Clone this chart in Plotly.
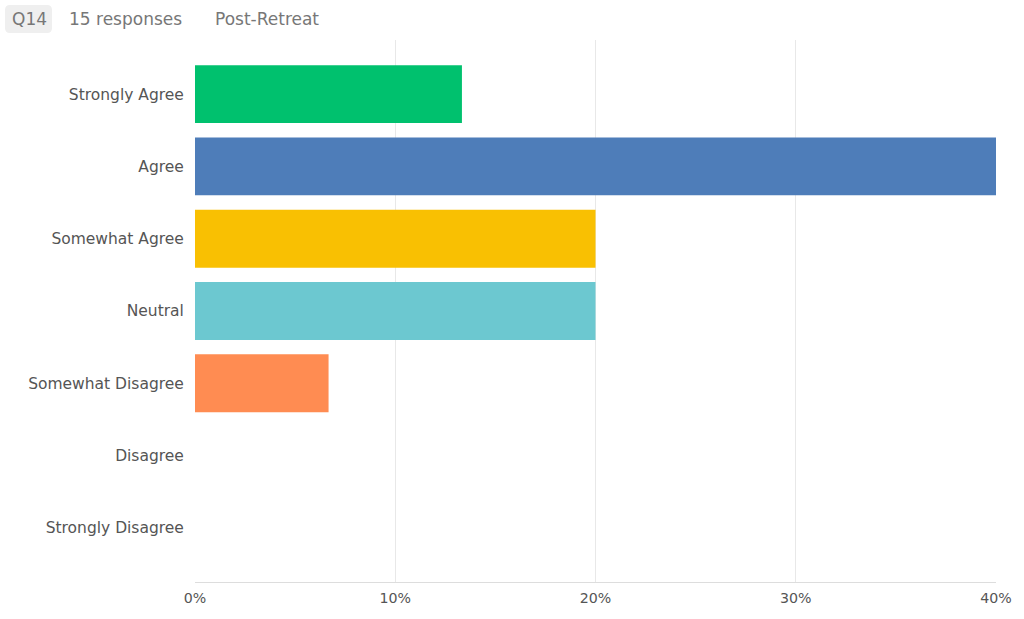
import plotly.graph_objects as go

categories = ["Strongly Agree", "Agree", "Somewhat Agree", "Neutral",
              "Somewhat Disagree", "Disagree", "Strongly Disagree"]
percent = [13.33, 40.0, 20.0, 20.0, 6.67, 0.0, 0.0]
colors = ["#00C16E", "#4E7DB9", "#F9C002", "#6CC8D0", "#FF8C52", "#8E6BB8", "#E55D5D"]
tick_vals = [0, 10, 20, 30, 40]
tick_text = ["0%", "10%", "20%", "30%", "40%"]

W, H = 1024, 619
ML, MR, MT, MB = 195, 28, 40, 37
PW, PH = W - ML - MR, H - MT - MB

def px(x):
    return (x - ML) / PW

def py(y):
    return (H - MB - y) / PH

fig = go.Figure(go.Bar(
    y=categories, x=percent, orientation="h",
    marker=dict(color=colors, line=dict(width=0)),
    width=0.8, hoverinfo="skip",
))

font = "DejaVu Sans, sans-serif"
fig.update_layout(
    width=W, height=H,
    margin=dict(l=ML, r=MR, t=MT, b=MB),
    paper_bgcolor="white", plot_bgcolor="white",
    showlegend=False,
    font=dict(family=font, size=14, color="#555555"),
    xaxis=dict(range=[0, 40], tickvals=tick_vals, ticktext=tick_text,
               showgrid=True, gridcolor="#E8E8E8", gridwidth=1,
               zeroline=False, showline=True, linecolor="#DDDDDD", linewidth=1,
               ticks="outside", ticklen=3, tickcolor="rgba(0,0,0,0)",
               fixedrange=True,
               tickfont=dict(size=14.2, color="#555555")),
    yaxis=dict(categoryorder="array", categoryarray=categories,
               autorange=False, range=[6.75, -0.75],
               showgrid=False, zeroline=False, showline=False,
               ticks="outside", ticklen=7, tickcolor="rgba(0,0,0,0)",
               tickfont=dict(size=15.5, color="#555555")),
)

# rounded grey box behind "Q14"
x0, x1, y0, y1, r = 5, 52, 5, 33, 5
path = (f"M {px(x0 + r)},{py(y0)} L {px(x1 - r)},{py(y0)} "
        f"Q {px(x1)},{py(y0)} {px(x1)},{py(y0 + r)} "
        f"L {px(x1)},{py(y1 - r)} Q {px(x1)},{py(y1)} {px(x1 - r)},{py(y1)} "
        f"L {px(x0 + r)},{py(y1)} Q {px(x0)},{py(y1)} {px(x0)},{py(y1 - r)} "
        f"L {px(x0)},{py(y0 + r)} Q {px(x0)},{py(y0)} {px(x0 + r)},{py(y0)} Z")
fig.add_shape(type="path", xref="paper", yref="paper", path=path,
              fillcolor="#EFEFEF", line=dict(width=0), layer="below")

hy = py(18.5)
fig.add_annotation(text="Q14", xref="paper", yref="paper", x=px(29), y=hy,
                   xanchor="center", yanchor="middle", showarrow=False,
                   font=dict(family=font, size=17, color="#777777"))
fig.add_annotation(text="15 responses", xref="paper", yref="paper", x=px(67), y=hy,
                   xanchor="left", yanchor="middle", showarrow=False,
                   font=dict(family=font, size=17, color="#777777"))
fig.add_annotation(text="Post-Retreat", xref="paper", yref="paper", x=px(213), y=hy,
                   xanchor="left", yanchor="middle", showarrow=False,
                   font=dict(family=font, size=17, color="#777777"))

fig.write_html("out.html", config={"displayModeBar": False})
